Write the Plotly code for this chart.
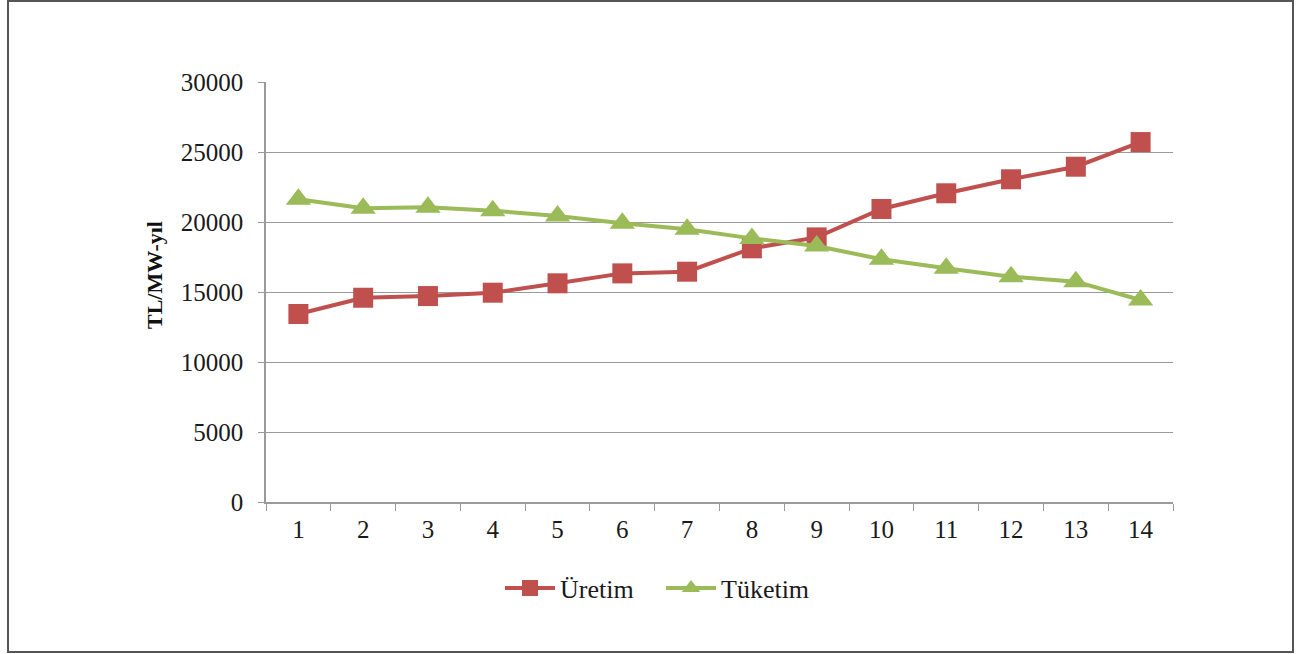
import plotly.graph_objects as go

periods = [str(i) for i in range(1, 15)]
uretim = [13430, 14590, 14710, 14950, 15620, 16330, 16450, 18120, 18900, 20930, 22050, 23050, 23950, 25710]
tuketim = [21620, 20980, 21050, 20810, 20430, 19910, 19480, 18830, 18290, 17340, 16690, 16090, 15740, 14430]
y_ticks = [0, 5000, 10000, 15000, 20000, 25000, 30000]
y_tick_text = [str(v) for v in y_ticks]

RED = "#C0504D"
GREEN = "#9BBB59"
FONT = "Liberation Serif"
TXT = "#1a1a1a"
AX = "#9a9a9a"

fig = go.Figure()
fig.add_trace(go.Scatter(
    x=periods, y=uretim, name="Üretim", mode="lines+markers",
    line=dict(color=RED, width=4),
    marker=dict(symbol="square", size=20, color=RED),
))
fig.add_trace(go.Scatter(
    x=periods, y=tuketim, name="Tüketim", mode="lines+markers",
    line=dict(color=GREEN, width=4),
    marker=dict(symbol="triangle-up", size=22, color=GREEN),
))

W, H = 1297, 654
L, R, T, B = 266, W - 1173, 82, H - 502
pw, ph = W - L - R, H - T - B

def px_x(x):
    return (x - L) / pw

def px_y(y):
    return (H - B - y) / ph

fig.update_layout(
    width=W, height=H,
    margin=dict(l=L, r=R, t=T, b=B, pad=0),
    paper_bgcolor="white", plot_bgcolor="white",
    font=dict(family=FONT, size=25, color=TXT),
    showlegend=True,
    legend=dict(
        orientation="h", x=px_x(500), xanchor="left", y=px_y(588), yanchor="middle",
        font=dict(family=FONT, size=26, color=TXT),
        itemwidth=50, entrywidth=96, entrywidthmode="pixels",
        tracegroupgap=0, bgcolor="rgba(0,0,0,0)",
    ),
    xaxis=dict(
        type="category", tickson="boundaries", ticks="outside", ticklen=7,
        ticklabelstandoff=4,
        tickcolor=AX, showline=True, linecolor=AX, linewidth=1.5,
        showgrid=False, zeroline=False, tickfont=dict(family=FONT, size=25, color=TXT),
        range=[-0.5, 13.5],
    ),
    yaxis=dict(
        range=[0, 30000], tickmode="array", tickvals=y_ticks, ticktext=y_tick_text,
        ticks="outside", ticklen=6, ticklabelstandoff=10,
        tickcolor=AX, showline=True, linecolor=AX, linewidth=1.5,
        showgrid=True, gridcolor=AX, gridwidth=1.2, zeroline=False,
        tickfont=dict(family=FONT, size=25, color=TXT),
    ),
    annotations=[dict(
        text="<b>TL/MW-yıl</b>", textangle=-90, showarrow=False,
        xref="paper", yref="paper", x=px_x(154), y=px_y(275),
        xanchor="center", yanchor="middle",
        font=dict(family=FONT, size=22, color="#111"),
    )],
    shapes=[dict(
        type="rect", xref="paper", yref="paper",
        x0=px_x(8), x1=px_x(1293), y0=px_y(652), y1=px_y(1),
        line=dict(color="#555", width=2), fillcolor="rgba(0,0,0,0)", layer="below",
    )],
)

fig.write_html("out.html", config={"displayModeBar": False},
               post_script="document.body.style.margin='0';")
